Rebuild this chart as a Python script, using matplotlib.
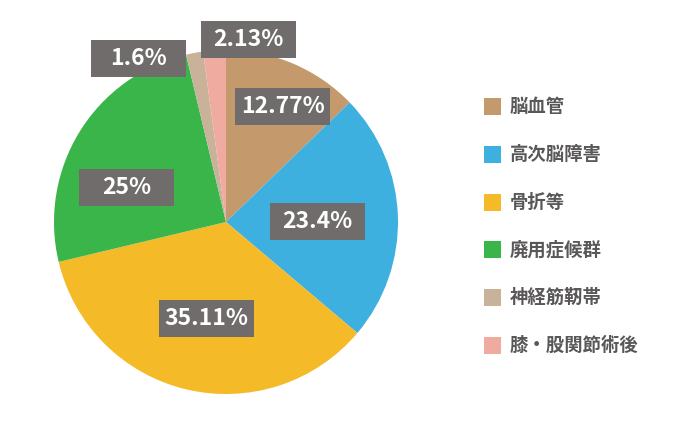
import matplotlib
matplotlib.use("Agg")
import matplotlib.pyplot as plt
from matplotlib.patches import Rectangle
import numpy as np

plt.rcParams['font.family'] = ['Noto Sans CJK JP', 'DejaVu Sans']

categories = ["脳血管", "高次脳障害", "骨折等", "廃用症候群", "神経筋靭帯", "膝・股関節術後"]
values = [12.77, 23.4, 35.11, 25.0, 1.6, 2.13]
labels = ["12.77%", "23.4%", "35.11%", "25%", "1.6%", "2.13%"]
colors = ["#C49A6C", "#3DB0E0", "#F4BA28", "#3AB54A", "#C8B29A", "#F0ABA1"]

# label placement (radial fraction, angle shift from slice middle in degrees)
label_r = [0.748, 0.532, 0.573, 0.61, 1.076, 1.07]
label_shift = [-3.1, -1.3, 2.0, 12.6, 17.5, -10.8]

W, H = 680, 424
fig = plt.figure(figsize=(W / 100, H / 100), dpi=100)
cx, cy, R = 226, 222, 172
ax = fig.add_axes([(cx - R) / W, (H - cy - R) / H, 2 * R / W, 2 * R / H])
ax.axis('off')

ax.pie(values, colors=colors, startangle=90, counterclock=False, radius=1,
       wedgeprops=dict(linewidth=0))
ax.set_xlim(-1, 1)
ax.set_ylim(-1, 1)
ax.set_aspect('auto')

total = sum(values)
cum = 0.0
bw, bh = 95 / R, 37 / R
for v, lab, rr, sh in zip(values, labels, label_r, label_shift):
    mid = 90 - (cum + v / 2) / total * 360 + sh
    cum += v
    x = rr * np.cos(np.radians(mid))
    y = rr * np.sin(np.radians(mid))
    ax.add_patch(Rectangle((x - bw / 2, y - bh / 2), bw, bh, facecolor="#6F6C6B",
                           edgecolor='none', zorder=5, clip_on=False))
    ax.text(x, y, lab, color='white', fontsize=16.5, fontweight='bold',
            ha='center', va='center', zorder=6)

# legend
lx, ly0, dy, sq = 484, 106.7, 47.7, 17
for i, (c, name) in enumerate(zip(colors, categories)):
    yc = ly0 + i * dy
    fig.patches.append(Rectangle((lx / W, (H - yc - sq / 2) / H), sq / W, sq / H,
                                 facecolor=c, edgecolor='none',
                                 transform=fig.transFigure, figure=fig))
    fig.text((lx + sq + 9) / W, (H - yc) / H, name, fontsize=13.2,
             color="#595757", ha='left', va='center', fontweight='bold')

fig.savefig("out.png", dpi=100, facecolor='white')
